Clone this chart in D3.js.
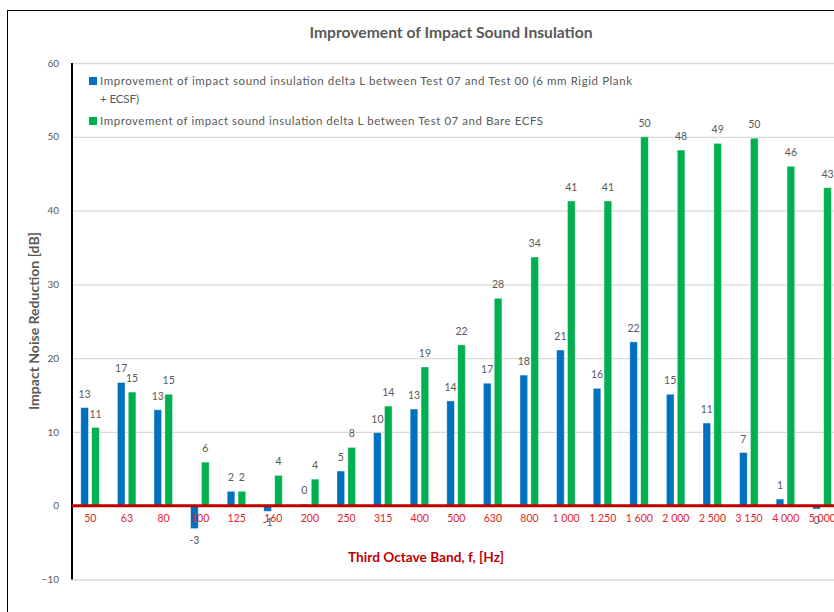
<!DOCTYPE html>
<html>
<head>
<meta charset="utf-8">
<script src="https://cdn.jsdelivr.net/npm/d3@7"></script>
<style>
  html, body { margin: 0; padding: 0; background: #fff; overflow: hidden; }
  svg { display: block; font-family: Lato, 'Open Sans', sans-serif; }
</style>
</head>
<body>
<svg id="chart" width="880" height="640"></svg>
<script>
// third octave bands (Hz)
const bands = ['50', '63', '80', '100', '125', '160', '200', '250', '315', '400', '500',
  '630', '800', '1 000', '1 250', '1 600', '2 000', '2 500', '3 150', '4 000', '5 000'];

// delta L, Test 07 vs Test 00
const vsTest00 = [13.3, 16.7, 13.0, -3.1, 1.95, -0.76, 0.2, 4.7, 9.9, 13.1, 14.2,
  16.6, 17.7, 21.1, 15.9, 22.2, 15.1, 11.2, 7.2, 0.9, -0.45];

// delta L, Test 07 vs bare ECFS
const vsBare = [10.6, 15.4, 15.1, 5.9, 1.95, 4.1, 3.6, 7.9, 13.5, 18.8, 21.8,
  28.1, 33.7, 41.3, 41.3, 50.0, 48.2, 49.1, 49.8, 46.0, 43.1];

const yTicks = [-10, 0, 10, 20, 30, 40, 50, 60];

const seriesNames = ['test00', 'bare'];
const seriesColors = { test00: '#0070c0', bare: '#00b050' };
const legendLines = [
  ['Improvement of impact sound insulation delta L between Test 07 and Test 00 (6 mm Rigid Plank', '+ ECSF)'],
  ['Improvement of impact sound insulation delta L between Test 07 and Bare ECFS']
];
const legendWidths = [[532, 39], [443]];

const svg = d3.select('#chart');

// chart frame (cut off on the right and bottom like the original)
svg.append('rect')
  .attr('x', 7.5).attr('y', 10.5)
  .attr('width', 900).attr('height', 700)
  .attr('fill', '#fff').attr('stroke', '#000').attr('stroke-width', 1);

const left = 72;
const right = left + bands.length * 36.6;

const x = d3.scaleBand().domain(bands).range([left, right]);
const x1 = d3.scaleBand().domain(seriesNames).range([-9.5, 9]).paddingInner(0.3);
const y = d3.scaleLinear().domain([-10, 60]).range([579.5, 63]);

// gridlines
svg.append('g')
  .attr('transform', `translate(${left},0)`)
  .call(d3.axisLeft(y).tickValues(yTicks).tickSize(-(right - left)).tickFormat(''))
  .call(g => g.select('.domain').remove())
  .call(g => g.selectAll('line').attr('stroke', '#d9d9d9').attr('stroke-width', 1.3));

// y tick labels
svg.append('g')
  .attr('transform', `translate(${left - 10},0)`)
  .call(d3.axisLeft(y).tickValues(yTicks).tickSize(0))
  .call(g => g.select('.domain').remove())
  .call(g => g.selectAll('text')
    .attr('fill', '#595959')
    .style('font-size', '10px')
    .style('font-family', 'Lato, sans-serif'));

// bars
const rows = bands.map((b, i) => ({ band: b, test00: vsTest00[i], bare: vsBare[i] }));

const groups = svg.append('g')
  .selectAll('g')
  .data(rows)
  .join('g')
  .attr('transform', d => `translate(${x(d.band) + x.bandwidth() / 2},0)`);

const fmt = v => { const r = Math.round(v); return r === 0 ? '0' : String(r); };

groups.selectAll('rect')
  .data(d => seriesNames.map(k => ({ key: k, value: d[k] })))
  .join('rect')
  .attr('x', d => x1(d.key))
  .attr('width', x1.bandwidth())
  .attr('y', d => y(Math.max(0, d.value)))
  .attr('height', d => Math.abs(y(d.value) - y(0)))
  .attr('fill', d => seriesColors[d.key])
  .attr('stroke', 'rgba(255,255,255,0.45)')
  .attr('stroke-width', 0.8);

// data labels
groups.selectAll('text.lbl')
  .data(d => seriesNames.map(k => ({ key: k, value: d[k] })))
  .join('text')
  .attr('class', 'lbl')
  .attr('x', d => x1(d.key) + x1.bandwidth() / 2)
  .attr('y', d => d.value >= 0 ? y(d.value) - 10 : y(d.value) + 15)
  .attr('text-anchor', 'middle')
  .attr('fill', '#595959')
  .style('font-size', '10.5px')
  .text(d => fmt(d.value));

// y axis line
svg.append('line')
  .attr('x1', left).attr('x2', left)
  .attr('y1', y(60)).attr('y2', y(-10))
  .attr('stroke', '#000').attr('stroke-width', 2);

// zero line in red
svg.append('line')
  .attr('x1', left).attr('x2', right + 40)
  .attr('y1', y(0)).attr('y2', y(0))
  .attr('stroke', '#c00000').attr('stroke-width', 3);

// x tick labels
svg.append('g')
  .attr('transform', `translate(0,${y(0) + 6})`)
  .call(d3.axisBottom(x).tickSize(0))
  .call(g => g.select('.domain').remove())
  .call(g => g.selectAll('text')
    .attr('fill', '#e0242a')
    .style('font-size', '10.5px')
    .style('font-family', 'Lato, sans-serif'));

// titles
svg.append('text')
  .attr('x', 451).attr('y', 38)
  .attr('text-anchor', 'middle')
  .attr('fill', '#595959')
  .attr('textLength', 283).attr('lengthAdjust', 'spacingAndGlyphs')
  .style('font-size', '15px').style('font-weight', 'bold')
  .text('Improvement of Impact Sound Insulation');

svg.append('text')
  .attr('transform', 'translate(39,321) rotate(-90)')
  .attr('text-anchor', 'middle')
  .attr('fill', '#595959')
  .attr('textLength', 178).attr('lengthAdjust', 'spacingAndGlyphs')
  .style('font-size', '13.5px').style('font-weight', 'bold')
  .text('Impact Noise Reduction [dB]');

svg.append('text')
  .attr('x', 426).attr('y', 562)
  .attr('text-anchor', 'middle')
  .attr('fill', '#c00000')
  .attr('textLength', 156).attr('lengthAdjust', 'spacingAndGlyphs')
  .style('font-size', '13px').style('font-weight', 'bold')
  .text('Third Octave Band, f,  [Hz]');

// legend
const legend = svg.append('g').attr('transform', 'translate(89,0)');
const legendTop = [77, 117];
seriesNames.forEach((k, i) => {
  legend.append('rect')
    .attr('x', 0).attr('y', legendTop[i])
    .attr('width', 8).attr('height', 8)
    .attr('fill', seriesColors[k]);
  legendLines[i].forEach((line, j) => {
    legend.append('text')
      .attr('x', 11).attr('y', legendTop[i] + 8 + j * 18)
      .attr('fill', '#595959')
      .attr('textLength', legendWidths[i][j]).attr('lengthAdjust', 'spacing')
      .style('font-size', '11.5px')
      .text(line);
  });
});
</script>
</body>
</html>
